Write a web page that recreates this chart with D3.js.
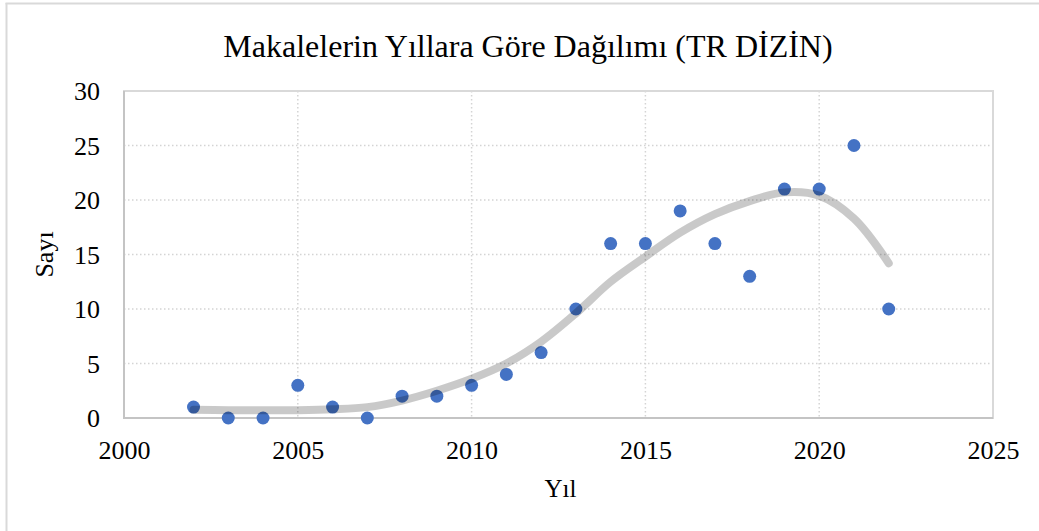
<!DOCTYPE html>
<html>
<head>
<meta charset="utf-8">
<script src="https://cdn.jsdelivr.net/npm/d3@7"></script>
<style>
  html, body { margin: 0; padding: 0; background: #fff; }
  svg { display: block; }
  text { font-family: "Liberation Serif", "Times New Roman", serif; fill: #000; }
</style>
</head>
<body>
<svg id="chart" width="1039" height="531"></svg>
<script>
// ---- data ----
const years = [2002, 2003, 2004, 2005, 2006, 2007, 2008, 2009, 2010, 2011, 2012,
               2013, 2014, 2015, 2016, 2017, 2018, 2019, 2020, 2021, 2022];
const counts = [1, 0, 0, 3, 1, 0, 2, 2, 3, 4, 6, 10, 16, 16, 19, 16, 13, 21, 21, 25, 10];
// polynomial trend line values
const trendValues = [0.75, 0.72, 0.7, 0.72, 0.8, 1.0, 1.6, 2.5, 3.6, 5.0, 7.0,
                     9.6, 12.5, 14.8, 17.0, 18.7, 19.9, 20.7, 20.4, 18.3, 14.2];
const xTicks = [2000, 2005, 2010, 2015, 2020, 2025];
const yTicks = [0, 5, 10, 15, 20, 25, 30];
const title = "Makalelerin Yıllara Göre Dağılımı (TR DİZİN)";
const xTitle = "Yıl";
const yTitle = "Sayı";

// ---- layout ----
const serif = '"Liberation Serif", "Times New Roman", serif';
const svg = d3.select("#chart");
const plot = { left: 124, right: 993, top: 91, bottom: 418 };
const x = d3.scaleLinear().domain([2000, 2025]).range([plot.left, plot.right]);
const y = d3.scaleLinear().domain([0, 30]).range([plot.bottom, plot.top]);

// outer chart border (top & left visible)
svg.append("line").attr("x1", 5.5).attr("x2", 1039).attr("y1", 3.5).attr("y2", 3.5)
  .attr("stroke", "#d9d9d9").attr("stroke-width", 2);
svg.append("line").attr("x1", 6.5).attr("x2", 6.5).attr("y1", 3).attr("y2", 531)
  .attr("stroke", "#d9d9d9").attr("stroke-width", 2);

// title
svg.append("text").attr("x", 528).attr("y", 57).attr("text-anchor", "middle")
  .style("font-size", "32px").text(title);

// gridlines
const grid = svg.append("g");
grid.selectAll("line.h").data(yTicks.filter(d => d > 0 && d < 30)).join("line")
  .attr("x1", plot.left).attr("x2", plot.right)
  .attr("y1", d => y(d)).attr("y2", d => y(d))
  .attr("stroke", "#d4d4d4").attr("stroke-width", 1.5).attr("stroke-dasharray", "1.5,2.5");
grid.selectAll("line.v").data(xTicks.filter(d => d > 2000 && d < 2025)).join("line")
  .attr("y1", plot.top).attr("y2", plot.bottom)
  .attr("x1", d => x(d)).attr("x2", d => x(d))
  .attr("stroke", "#d4d4d4").attr("stroke-width", 1.5).attr("stroke-dasharray", "1.5,2.5");

// plot border
svg.append("rect").attr("x", plot.left).attr("y", plot.top)
  .attr("width", plot.right - plot.left).attr("height", plot.bottom - plot.top)
  .attr("fill", "none").attr("stroke", "#d9d9d9").attr("stroke-width", 2);
svg.append("path")
  .attr("d", `M${plot.left},${plot.top}V${plot.bottom}H${plot.right}`)
  .attr("fill", "none").attr("stroke", "#c4c4c4").attr("stroke-width", 2);

// axes (labels only, using d3 axes)
const fs = 26;
const yAxis = svg.append("g").attr("transform", `translate(${plot.left},0)`)
  .call(d3.axisLeft(y).tickValues(yTicks).tickSize(0).tickPadding(24));
const xAxis = svg.append("g").attr("transform", `translate(0,${plot.bottom})`)
  .call(d3.axisBottom(x).tickValues(xTicks).tickSize(0).tickFormat(d3.format("d")));
[yAxis, xAxis].forEach(a => {
  a.attr("font-family", serif).attr("font-size", fs);
  a.select(".domain").remove();
  a.selectAll("text").style("font-size", fs + "px")
    .style("font-family", serif).attr("fill", "#000");
});
yAxis.selectAll("text").attr("dy", null).attr("y", 0.34 * fs);
xAxis.selectAll("text").attr("dy", null).attr("y", 41);

// axis titles
svg.append("text").attr("x", (plot.left + plot.right) / 2 + 2).attr("y", 497)
  .attr("text-anchor", "middle").style("font-size", "25px").text(xTitle);
svg.append("text").attr("transform", `translate(53,${(plot.top + plot.bottom) / 2}) rotate(-90)`)
  .attr("text-anchor", "middle").style("font-size", "26px").text(yTitle);

// points
const pts = years.map((yr, i) => ({ yr, v: counts[i] }));
svg.append("g").selectAll("circle").data(pts).join("circle")
  .attr("cx", d => x(d.yr)).attr("cy", d => y(d.v)).attr("r", 6.5)
  .attr("fill", "#4472c4");

// trend line (drawn over, semi-transparent)
const trend = years.map((yr, i) => ({ yr, v: trendValues[i] }));
svg.append("path").datum(trend)
  .attr("d", d3.line().x(d => x(d.yr)).y(d => y(d.v)).curve(d3.curveCatmullRom.alpha(0.5)))
  .attr("fill", "none").attr("stroke", "#000").attr("stroke-opacity", 0.21)
  .attr("stroke-width", 8).attr("stroke-linecap", "round");
</script>
</body>
</html>
